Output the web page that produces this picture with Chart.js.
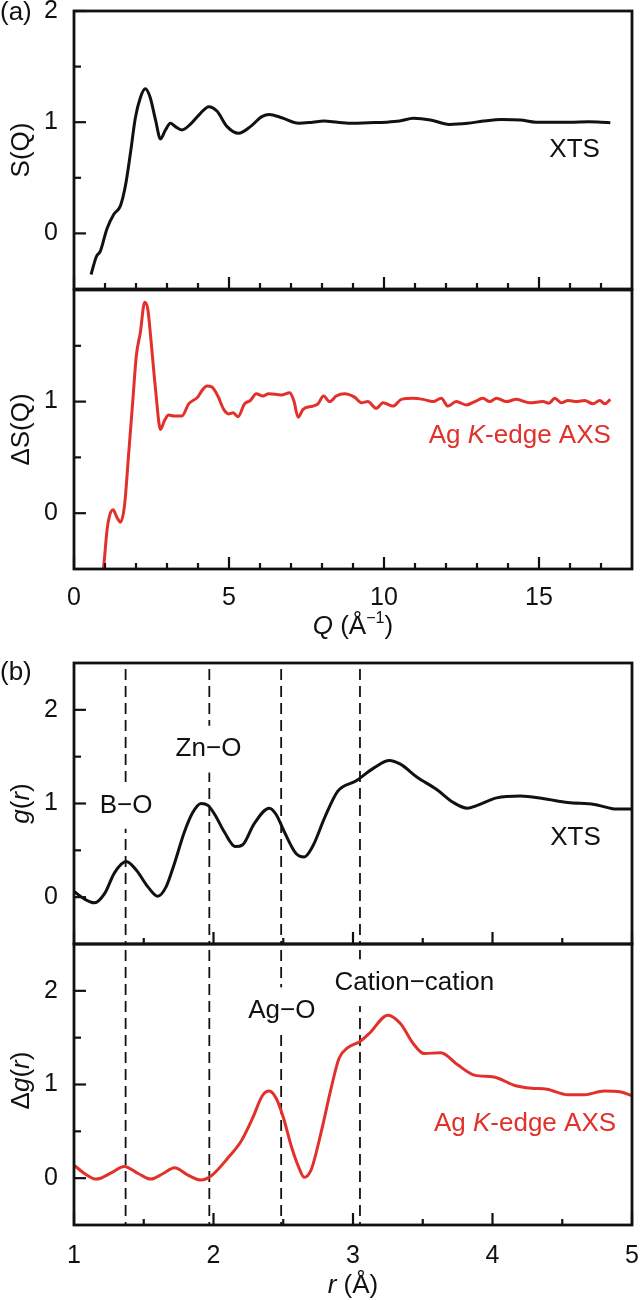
<!DOCTYPE html>
<html>
<head>
<meta charset="utf-8">
<script src="https://cdn.jsdelivr.net/npm/chart.js@4.4.1/dist/chart.umd.min.js"></script>
<style>
  html, body { margin: 0; padding: 0; background: #fff; }
  #wrap { position: relative; width: 640px; height: 1300px; }
  canvas { position: absolute; left: 0; }
</style>
</head>
<body>
<div id="wrap">
  <canvas id="a1" width="640" height="300" style="top:0px"></canvas>
  <canvas id="a2" width="640" height="360" style="top:280px"></canvas>
  <canvas id="b1" width="640" height="310" style="top:640px"></canvas>
  <canvas id="b2" width="640" height="370" style="top:930px"></canvas>
</div>
<script>
// (a) S(Q) from X-ray total scattering
const xtsQ = [0.55, 0.72, 0.85, 1.06, 1.28, 1.5, 1.66, 1.82, 1.98, 2.14, 2.30, 2.46, 2.63, 2.79, 2.95, 3.11, 3.27, 3.48, 3.75, 4.08,
  4.35, 4.61, 4.94, 5.31, 5.69, 6.06, 6.30, 6.7, 7.25, 7.7, 8.05, 8.5, 9.0, 9.5, 10.08, 10.5, 10.95, 11.5, 12.1, 12.7,
  13.2, 13.8, 14.4, 14.9, 15.4, 16.0, 16.6, 17.0, 17.3];
const xtsS = [-0.37, -0.21, -0.16, 0.04, 0.17, 0.25, 0.43, 0.72, 1.04, 1.22, 1.30, 1.22, 1.02, 0.85, 0.93, 0.99, 0.96, 0.93, 0.98, 1.08,
  1.14, 1.10, 0.96, 0.90, 0.96, 1.05, 1.07, 1.04, 0.99, 1.0, 1.01, 1.0, 0.99, 0.995, 1.0, 1.01, 1.035, 1.02, 0.98, 0.99,
  1.01, 1.025, 1.02, 1.0, 1.0, 1.0, 1.005, 1.0, 0.995];

// (a) ΔS(Q) from Ag K-edge AXS
const axsQ = [0.90, 0.96, 1.07, 1.15, 1.26, 1.39, 1.50, 1.63, 1.76, 1.90, 2.01, 2.14, 2.28, 2.38, 2.48, 2.63, 2.79, 2.92, 3.05, 3.22,
  3.48, 3.70, 3.99, 4.13, 4.29, 4.45, 4.64, 4.83, 4.99, 5.13, 5.29, 5.50, 5.69, 5.88, 6.09, 6.28, 6.69, 6.96, 7.09, 7.23,
  7.39, 7.71, 7.87, 8.05, 8.25, 8.46, 8.73, 9.05, 9.27, 9.48, 9.75, 9.97, 10.29, 10.56, 10.94, 11.26, 11.58, 11.85, 12.06, 12.33,
  12.66, 12.93, 13.19, 13.41, 13.63, 13.95, 14.27, 14.70, 15.13, 15.32, 15.51, 15.72, 15.94, 16.21, 16.47, 16.74, 16.96, 17.12, 17.30];
const axsS = [-0.6, -0.47, -0.14, -0.02, 0.03, -0.04, -0.08, 0.07, 0.52, 1.02, 1.41, 1.62, 1.89, 1.83, 1.56, 1.11, 0.75, 0.83, 0.88, 0.87,
  0.87, 0.98, 1.04, 1.10, 1.14, 1.13, 1.05, 0.93, 0.89, 0.90, 0.865, 0.98, 1.01, 1.07, 1.05, 1.07, 1.06, 1.08, 1.01, 0.86,
  0.93, 0.96, 0.98, 1.05, 1.0, 1.05, 1.07, 1.04, 0.99, 1.0, 0.94, 0.99, 0.96, 1.02, 1.03, 1.02, 1.0, 1.03, 0.96, 1.0,
  0.97, 1.0, 1.03, 1.0, 1.03, 1.0, 1.02, 0.99, 1.0, 0.985, 1.03, 0.99, 1.01, 1.0, 1.01, 0.98, 1.01, 0.98, 1.02];

// (b) g(r) XTS
const xtsR = [1.0, 1.075, 1.147, 1.22, 1.29, 1.374, 1.446, 1.53, 1.60, 1.66, 1.72, 1.79, 1.85, 1.91, 1.96, 2.01, 2.08, 2.156, 2.21, 2.29,
  2.40, 2.45, 2.51, 2.59, 2.65, 2.71, 2.80, 2.89, 3.02, 3.15, 3.26, 3.34, 3.46, 3.60, 3.72, 3.82, 3.89, 4.03, 4.20, 4.37,
  4.54, 4.73, 4.89, 5.0];
const xtsG = [0.06, -0.02, -0.06, 0.04, 0.26, 0.38, 0.29, 0.11, 0.01, 0.11, 0.36, 0.69, 0.90, 1.0, 0.98, 0.88, 0.69, 0.54, 0.56, 0.78,
  0.95, 0.88, 0.69, 0.47, 0.43, 0.54, 0.86, 1.13, 1.24, 1.38, 1.46, 1.42, 1.28, 1.15, 1.01, 0.95, 0.98, 1.06, 1.08, 1.05,
  1.01, 0.99, 0.94, 0.94];

// (b) Δg(r) AXS
const axsR = [1.0, 1.075, 1.16, 1.27, 1.36, 1.46, 1.55, 1.64, 1.72, 1.82, 1.91, 1.98, 2.10, 2.20, 2.28, 2.35, 2.40, 2.45, 2.50, 2.56,
  2.61, 2.65, 2.70, 2.77, 2.84, 2.90, 2.96, 3.05, 3.12, 3.25, 3.34, 3.43, 3.51, 3.63, 3.75, 3.87, 4.01, 4.16, 4.28, 4.39,
  4.54, 4.66, 4.80, 4.92, 5.0];
const axsG = [0.14, 0.05, -0.01, 0.06, 0.125, 0.05, -0.01, 0.05, 0.11, 0.03, -0.02, 0.02, 0.21, 0.40, 0.64, 0.88, 0.93, 0.85, 0.65, 0.33,
  0.12, 0.01, 0.09, 0.48, 0.94, 1.28, 1.39, 1.46, 1.55, 1.74, 1.65, 1.44, 1.33, 1.34, 1.21, 1.10, 1.08, 0.99, 0.96, 0.95,
  0.89, 0.89, 0.93, 0.92, 0.88];

// tick values
const qLabels = [0, 5, 10, 15];
const qMinor = [1, 2, 3, 4, 6, 7, 8, 9, 11, 12, 13, 14, 16, 17];
const rLabels = [1, 2, 3, 4, 5];
const rMinor = [1.5, 2.5, 3.5, 4.5];
const sMinor = [0.5, 1.5];
const gMinor = [0.5, 1.5];
const guideLines = [1.37, 1.97, 2.485, 3.05]; // B-O, Zn-O, Ag-O, cation-cation

const FONT = '"Liberation Sans", Arial, sans-serif';
const INK = '#111';
const RED = '#e2302b';

// draw text made of runs: [text, style] where style is '', 'i' (italic) or 'sup'
function drawRuns(ctx, runs, x, y, size, color, opt = {}) {
  ctx.save();
  ctx.translate(x, y);
  if (opt.rotate) ctx.rotate(-Math.PI / 2);
  const parts = runs.map(([t, s]) => {
    const sz = s === 'sup' ? size * 0.62 : size;
    ctx.font = (s === 'i' ? 'italic ' : '') + sz + 'px ' + FONT;
    return { t, s, font: ctx.font, w: ctx.measureText(t).width };
  });
  const total = parts.reduce((a, p) => a + p.w, 0);
  let cx = opt.align === 'left' ? 0 : -total / 2;
  if (opt.bg) {
    ctx.fillStyle = '#fff';
    ctx.fillRect(cx - 3, -size * 0.9, total + 6, size * 1.8);
  }
  ctx.fillStyle = color;
  ctx.textBaseline = 'middle';
  ctx.textAlign = 'left';
  parts.forEach(p => {
    ctx.font = p.font;
    ctx.fillText(p.t, cx, p.s === 'sup' ? -size * 0.33 : 0);
    cx += p.w;
  });
  ctx.restore();
}

// frame, inward ticks, guide lines and annotations
const deco = {
  id: 'deco',
  beforeDatasetsDraw(chart, args, o) {
    const { ctx, chartArea: a, scales: { x } } = chart;
    ctx.save();
    ctx.strokeStyle = INK;
    ctx.lineWidth = 1.8;
    ctx.setLineDash([11, 6]);
    ctx.lineDashOffset = -6;
    (o.guides || []).forEach(v => {
      const px = x.getPixelForValue(v);
      ctx.beginPath();
      ctx.moveTo(px, a.top);
      ctx.lineTo(px, a.bottom);
      ctx.stroke();
    });
    ctx.restore();
  },
  afterDatasetsDraw(chart, args, o) {
    const { ctx, chartArea: a, scales: { x, y } } = chart;
    (o.labels || []).forEach(l => {
      drawRuns(ctx, l.runs, x.getPixelForValue(l.x), y.getPixelForValue(l.y), 26, l.color || INK, { bg: l.bg });
    });

    ctx.save();
    ctx.strokeStyle = INK;
    ctx.lineWidth = 2.2;
    const tick = (x0, y0, x1, y1) => { ctx.beginPath(); ctx.moveTo(x0, y0); ctx.lineTo(x1, y1); ctx.stroke(); };
    o.xMajor.forEach(v => { const px = x.getPixelForValue(v); tick(px, a.bottom, px, a.bottom - 12); });
    o.xMinor.forEach(v => { const px = x.getPixelForValue(v); tick(px, a.bottom, px, a.bottom - 6); });
    o.yMajor.forEach(v => { const py = y.getPixelForValue(v); tick(a.left, py, a.left + 12, py); });
    o.yMinor.forEach(v => { const py = y.getPixelForValue(v); tick(a.left, py, a.left + 7, py); });
    ctx.lineWidth = 2.8;
    ctx.strokeRect(a.left, a.top, a.right - a.left, a.bottom - a.top);
    ctx.restore();

    drawRuns(ctx, o.yTitle, 22, (a.top + a.bottom) / 2 + (o.yTitleShift || 0), 26, INK, { rotate: true });
    if (o.xTitle) drawRuns(ctx, o.xTitle, (a.left + a.right) / 2, a.bottom + o.xTitleGap, 26, INK);
    if (o.tag) drawRuns(ctx, [[o.tag, '']], 0, a.top + o.tagGap, 26, INK, { align: 'left' });
  }
};

function panel(id, p) {
  return new Chart(document.getElementById(id), {
    type: 'line',
    data: {
      datasets: [{
        data: p.xs.map((v, i) => ({ x: v, y: p.ys[i] })),
        borderColor: p.color,
        borderWidth: 3,
        pointRadius: 0,
        cubicInterpolationMode: 'monotone',
        fill: false
      }]
    },
    options: {
      responsive: false,
      animation: false,
      events: [],
      layout: { padding: { left: 0, right: 8, top: p.padTop, bottom: p.padBottom } },
      plugins: { legend: { display: false }, tooltip: { enabled: false }, deco: p.deco },
      scales: {
        x: {
          type: 'linear', min: p.xMin, max: p.xMax, display: p.showX,
          border: { display: false }, grid: { display: false },
          afterBuildTicks: s => { s.ticks = p.xLabels.map(v => ({ value: v })); },
          afterFit: s => { s.height = p.xAxisH || 0; s.paddingLeft = 0; s.paddingRight = 0; },
          ticks: { font: { family: FONT, size: 25 }, color: INK, padding: p.xPad || 0, maxRotation: 0, autoSkip: false, callback: v => String(v) }
        },
        y: {
          type: 'linear', min: p.yMin, max: p.yMax,
          border: { display: false }, grid: { display: false },
          afterBuildTicks: s => { s.ticks = p.yLabels.map(v => ({ value: v })); },
          afterFit: s => { s.width = 74; s.paddingTop = 0; s.paddingBottom = 0; },
          ticks: { font: { family: FONT, size: 25 }, color: INK, padding: 8, autoSkip: false, callback: v => String(v) }
        }
      }
    },
    plugins: [deco]
  });
}

panel('a1', {
  xs: xtsQ, ys: xtsS, color: INK,
  xMin: 0, xMax: 18, yMin: -0.5, yMax: 2,
  showX: false, xLabels: qLabels, yLabels: [0, 1, 2],
  padTop: 11, padBottom: 11,
  deco: {
    xMajor: qLabels, xMinor: qMinor, yMajor: [0, 1, 2], yMinor: sMinor,
    yTitle: [['S(Q)', '']], tag: '(a)', tagGap: 2,
    labels: [{ runs: [['XTS', '']], x: 16.15, y: 0.755 }]
  }
});

panel('a2', {
  xs: axsQ, ys: axsS, color: RED,
  xMin: 0, xMax: 18, yMin: -0.5, yMax: 2,
  showX: true, xLabels: qLabels, yLabels: [0, 1],
  padTop: 10, padBottom: 0, xAxisH: 71, xPad: 6,
  deco: {
    xMajor: qLabels, xMinor: qMinor, yMajor: [0, 1], yMinor: sMinor,
    yTitle: [['ΔS(Q)', '']],
    xTitle: [['Q', 'i'], [' (Å', ''], ['−1', 'sup'], [')', '']], xTitleGap: 58,
    labels: [{ runs: [['Ag ', ''], ['K', 'i'], ['-edge AXS', '']], x: 14.38, y: 0.69, color: RED }]
  }
});

panel('b1', {
  xs: xtsR, ys: xtsG, color: INK,
  xMin: 1, xMax: 5, yMin: -0.5, yMax: 2.5,
  showX: false, xLabels: rLabels, yLabels: [0, 1, 2],
  padTop: 23, padBottom: 6,
  deco: {
    xMajor: rLabels, xMinor: rMinor, yMajor: [0, 1, 2], yMinor: gMinor,
    guides: guideLines,
    yTitle: [['g', 'i'], ['(', ''], ['r', 'i'], [')', '']], tag: '(b)', tagGap: 10,
    labels: [
      { runs: [['B−O', '']], x: 1.373, y: 0.98, bg: true },
      { runs: [['Zn−O', '']], x: 1.964, y: 1.58, bg: true },
      { runs: [['XTS', '']], x: 4.595, y: 0.636 }
    ]
  }
});

panel('b2', {
  xs: axsR, ys: axsG, color: RED,
  xMin: 1, xMax: 5, yMin: -0.5, yMax: 2.5,
  showX: true, xLabels: rLabels, yLabels: [0, 1, 2],
  padTop: 14, padBottom: 0, xAxisH: 75, xPad: 8,
  deco: {
    xMajor: rLabels, xMinor: rMinor, yMajor: [0, 1, 2], yMinor: gMinor,
    guides: guideLines,
    yTitle: [['Δ', ''], ['g', 'i'], ['(', ''], ['r', 'i'], [')', '']], yTitleShift: -4,
    xTitle: [['r', 'i'], [' (Å)', '']], xTitleGap: 61,
    labels: [
      { runs: [['Ag−O', '']], x: 2.49, y: 1.787, bg: true },
      { runs: [['Cation−cation', '']], x: 3.44, y: 2.087, bg: true },
      { runs: [['Ag ', ''], ['K', 'i'], ['-edge AXS', '']], x: 4.233, y: 0.576, color: RED }
    ]
  }
});
</script>
</body>
</html>
